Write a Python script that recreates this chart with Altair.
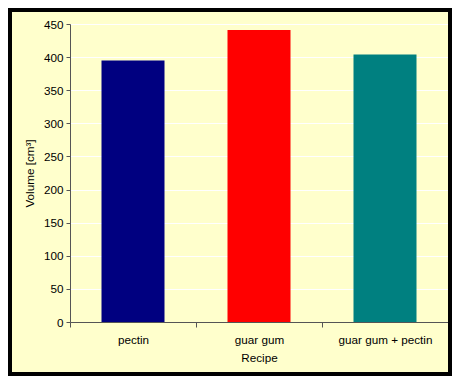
import altair as alt
import pandas as pd

recipes = ["pectin", "guar gum", "guar gum + pectin"]
volumes = [395, 441, 404]
colors = ["#000080", "#FF0000", "#008080"]
y_ticks = [0, 50, 100, 150, 200, 250, 300, 350, 400, 450]

df = pd.DataFrame({"Recipe": recipes, "Volume": volumes})

W, H = 378, 298
PAD = {"left": 62, "top": 16, "right": 4, "bottom": 54}

bars = alt.Chart(df).mark_bar(width=alt.RelativeBandSize(0.5)).encode(
    x=alt.X(
        "Recipe:N",
        sort=recipes,
        title="Recipe",
        scale=alt.Scale(paddingInner=0, paddingOuter=0),
        axis=alt.Axis(
            labelAngle=0,
            tickBand="extent",
            tickSize=5,
            labelPadding=7,
            titlePadding=7,
            grid=False,
        ),
    ),
    y=alt.Y(
        "Volume:Q",
        scale=alt.Scale(domain=[0, 450], nice=False),
        axis=alt.Axis(
            values=y_ticks,
            title="Volume [cm³]",
            tickSize=4,
            labelPadding=3,
            titlePadding=8,
            grid=True,
            gridColor="#FFFFFF",
            gridWidth=1,
        ),
    ),
    color=alt.Color(
        "Recipe:N",
        scale=alt.Scale(domain=recipes, range=colors),
        legend=None,
    ),
)

frame = alt.Chart(pd.DataFrame({"a": [0]})).mark_rect(
    filled=False, stroke="black", strokeWidth=8
).encode(
    x=alt.value(-PAD["left"]),
    x2=alt.value(W + PAD["right"]),
    y=alt.value(-PAD["top"]),
    y2=alt.value(H + PAD["bottom"]),
)

chart = alt.layer(bars, frame).properties(
    width=W,
    height=H,
    padding=PAD,
    autosize="none",
    background="#FFFFCC",
).configure_view(
    stroke=None,
).configure_axis(
    domainColor="#555555",
    tickColor="#555555",
    labelFont="Liberation Sans",
    titleFont="Liberation Sans",
    labelFontSize=11.7,
    titleFontSize=11.7,
    labelColor="#000000",
    titleColor="#000000",
    titleFontWeight="normal",
)

chart.save("out.html", embed_options={"renderer": "svg", "actions": False})
